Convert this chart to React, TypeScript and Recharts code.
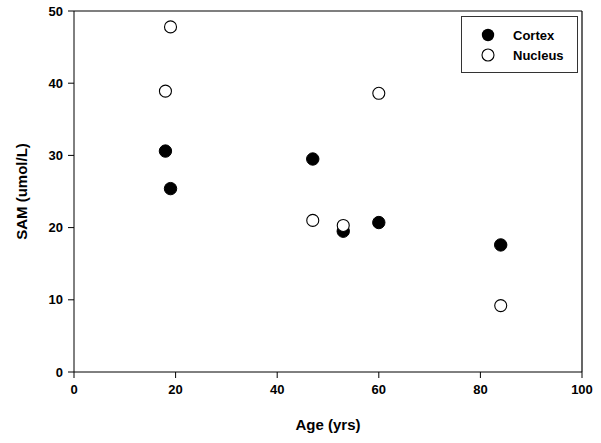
import React from 'react';
import { ScatterChart, Scatter, XAxis, YAxis, ReferenceLine } from 'recharts';

const cortexAge = [18, 19, 47, 53, 60, 84];
const cortexSAM = [30.6, 25.4, 29.5, 19.5, 20.7, 17.6];
const nucleusAge = [19, 18, 47, 53, 60, 84];
const nucleusSAM = [47.8, 38.9, 21.0, 20.3, 38.6, 9.2];
const xTicks = [0, 20, 40, 60, 80, 100];
const yTicks = [0, 10, 20, 30, 40, 50];
const seriesNames = ['Cortex', 'Nucleus'];

const cortex = cortexAge.map((a, i) => ({ age: a, sam: cortexSAM[i] }));
const nucleus = nucleusAge.map((a, i) => ({ age: a, sam: nucleusSAM[i] }));

const FONT = 'Arial, "Liberation Sans", sans-serif';

const Filled = (p: any) => <circle cx={p.cx} cy={p.cy} r={6.2} fill="#000" stroke="#000" strokeWidth={1} />;
const Open = (p: any) => <circle cx={p.cx} cy={p.cy} r={6} fill="#fff" stroke="#000" strokeWidth={1.1} />;

const LegendBox = () => (
  <div style={{ position: 'absolute', left: 461, top: 16, width: 117, height: 57, border: '1px solid #333', boxSizing: 'border-box', background: '#fff' }}>
    <svg width={117} height={57} style={{ position: 'absolute', left: -1, top: -1 }}>
      <circle cx={27} cy={19} r={6.2} fill="#000" />
      <circle cx={27} cy={39} r={6} fill="#fff" stroke="#000" strokeWidth={1.1} />
      <text x={52} y={24} fontFamily={FONT} fontWeight="bold" fontSize={13} fill="#000">{seriesNames[0]}</text>
      <text x={52} y={44} fontFamily={FONT} fontWeight="bold" fontSize={13} fill="#000">{seriesNames[1]}</text>
    </svg>
  </div>
);

export default function App() {
  return (
    <div style={{ position: 'absolute', left: 0, top: 0, width: 601, height: 443, background: '#fff' }}>
      <ScatterChart width={601} height={443} margin={{ top: 11, right: 19, left: 0, bottom: 0 }}>
        <XAxis
          type="number"
          dataKey="age"
          domain={[0, 100]}
          ticks={xTicks}
          tickSize={6}
          tickMargin={7}
          height={71}
          stroke="#000"
          tick={{ fill: '#000', fontFamily: FONT, fontWeight: 'bold', fontSize: 13 }}
          label={{ value: 'Age (yrs)', position: 'insideBottom', offset: 13, fill: '#000', fontFamily: FONT, fontWeight: 'bold', fontSize: 15 }}
        />
        <YAxis
          type="number"
          dataKey="sam"
          domain={[0, 50]}
          ticks={yTicks}
          tickSize={6}
          tickMargin={5}
          width={74}
          stroke="#000"
          tick={{ fill: '#000', fontFamily: FONT, fontWeight: 'bold', fontSize: 13 }}
          label={{ value: 'SAM (umol/L)', angle: -90, position: 'insideLeft', offset: 22, fill: '#000', fontFamily: FONT, fontWeight: 'bold', fontSize: 15, style: { textAnchor: 'middle' } }}
        />
        <ReferenceLine y={50} stroke="#555" strokeWidth={1.5} />
        <ReferenceLine x={100} stroke="#000" strokeWidth={1.2} />
        <Scatter name="Cortex" data={cortex} shape={Filled} isAnimationActive={false} />
        <Scatter name="Nucleus" data={nucleus} shape={Open} isAnimationActive={false} />
      </ScatterChart>
      <LegendBox />
    </div>
  );
}
